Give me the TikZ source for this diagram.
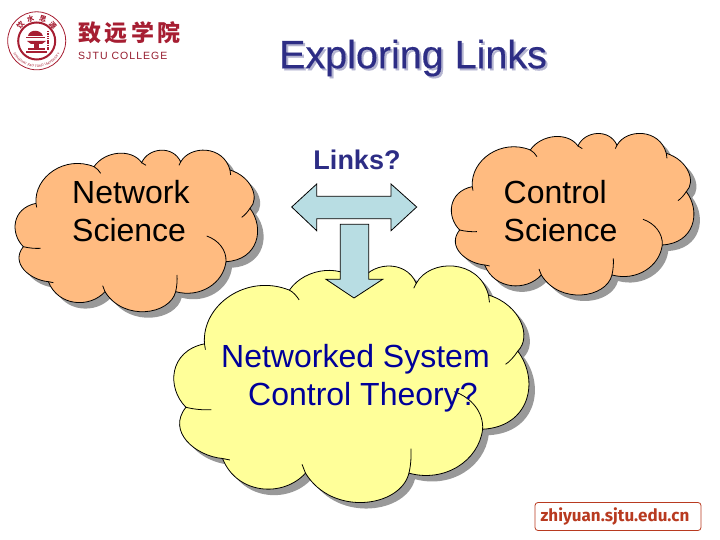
\documentclass[tikz,border=0pt]{standalone}
\usepackage{fontspec}
\setmainfont{Liberation Sans}
\newfontfamily\cjk{Noto Sans CJK SC}
\newfontfamily\webfont{Fira Sans}
\usetikzlibrary{decorations.text}

\definecolor{cloudorange}{HTML}{FFBB80}
\definecolor{cloudyellow}{HTML}{FFFF99}
\definecolor{cloudshade}{HTML}{999999}
\definecolor{arrowblue}{HTML}{B8DDE3}
\definecolor{titleblue}{HTML}{2D2D85}
\definecolor{titleshade}{HTML}{B4B4D0}
\definecolor{theoryblue}{HTML}{000099}
\definecolor{sealred}{HTML}{A61E32}
\definecolor{webred}{HTML}{B83A20}

\newcommand{\cloudoutline}{
  (78,190) .. controls (72,110) and (165,45) .. (252,80)
  .. controls (285,32) and (365,25) .. (395,68)
  .. controls (415,22) and (490,15) .. (512,66)
  .. controls (540,15) and (640,15) .. (660,90)
  .. controls (725,110) and (750,175) .. (720,205)
  .. controls (765,265) and (745,360) .. (648,365)
  .. controls (640,430) and (570,475) .. (497,455)
  .. controls (480,525) and (340,545) .. (285,455)
  .. controls (240,505) and (145,500) .. (115,425)
  .. controls (60,420) and (0,370) .. (40,320)
  .. controls (0,280) and (5,205) .. (78,190)
  -- cycle
}

\tikzset{
  pics/cloud/.style={code={
    \path[fill,draw=black,line width=0.8pt] \cloudoutline;
    \draw[line width=0.8pt] (252,80) .. controls (260,84) and (267,92) .. (272,100);
    \draw[line width=0.8pt] (395,68) -- (408,76);
    \draw[line width=0.8pt] (512,66) -- (507,76);
    \draw[line width=0.8pt] (660,90) -- (662,105);
    \draw[line width=0.8pt] (720,205) .. controls (712,217) and (704,226) .. (695,232);
    \draw[line width=0.8pt] (590,288) .. controls (625,300) and (650,330) .. (648,365);
    \draw[line width=0.8pt] (497,455) .. controls (501,438) and (502,420) .. (501,405);
    \draw[line width=0.8pt] (285,455) -- (278,437);
    \draw[line width=0.8pt] (115,425) -- (130,428);
    \draw[line width=0.8pt] (40,320) .. controls (55,324) and (75,326) .. (92,325);
    \draw[line width=0.8pt] (78,190) -- (80,202);
  }},
  pics/cloudshadow/.style={code={
    \path[fill] \cloudoutline;
  }}
}

\begin{document}
\begin{tikzpicture}[
  x=1pt,y=-1pt,
  small cloud/.style={xscale=1/3,yscale=1/3},
  big cloud/.style={xscale=0.488,yscale=0.488},
  blockarrow/.style={draw=black, fill=arrowblue, line width=0.8pt, line join=miter},
  cloudtext/.style={font=\fontsize{32}{38}\selectfont, align=left, inner sep=0pt},
  title/.style={font=\addfontfeature{FakeBold=0.4}\fontsize{39.5}{44}\selectfont, inner sep=0pt},
  sealchar/.style={font=\cjk\bfseries\fontsize{7}{7}\selectfont, text=sealred, inner sep=0pt},
  collegetext/.style={font=\cjk\bfseries\fontsize{23}{28}\selectfont, text=sealred, inner sep=0pt}
]
  \useasboundingbox (0,0) rectangle (720,540);

  % logo
  \node[draw=sealred, circle, line width=0.8pt, minimum size=58pt, inner sep=0pt] (sealouter) at (36.7,40.8) {};
  \node[draw=sealred, circle, line width=2pt, minimum size=37pt, inner sep=0pt] (sealinner) at (36.7,41) {};
  \node[sealchar, rotate=48] (seal1) at (20.5,25) {饮};
  \node[sealchar, rotate=16] (seal2) at (30.5,19) {水};
  \node[sealchar, rotate=-16] (seal3) at (43,19) {思};
  \node[sealchar, rotate=-48] (seal4) at (53,25) {源};
  \begin{scope}[shift={(36.7,40.8)},y=1pt]
    \path[postaction={decorate}, decoration={text along path, text align=center,
      text={|\fontsize{3.3}{4}\selectfont\color{sealred}|SHANGHAI JIAO TONG UNIVERSITY}}]
      (188:26.5) arc[start angle=188, end angle=352, radius=26.5];
  \end{scope}
  \fill[sealred] (28,36) .. controls (29,29) and (41,29) .. (43,36) -- cycle;
  \fill[sealred] (26,37) rectangle (45,38.5);
  \fill[sealred] (27,41) -- (46,41) -- (42,44) -- (31,44) -- cycle;
  \fill[sealred] (33.5,44) rectangle (39,48);
  \fill[sealred] (28,48) rectangle (45,50);
  \fill[sealred] (26,51.5) rectangle (47,53);
  \draw[sealred, line width=1.2pt, dash pattern=on 1.5pt off 0.8pt] (48,31) -- (48,50);

  \node[collegetext, anchor=west] (collegecn) at (78,33) {致\hspace{3.5pt}远\hspace{3.5pt}学\hspace{3.5pt}院};
  \node[font=\addfontfeature{LetterSpace=10}\fontsize{10.5}{12}\selectfont, text=sealred!90!black, inner sep=0pt, anchor=west] (collegeen) at (78,55.5) {SJTU COLLEGE};

  % title
  \node[title, text=titleshade] (titleshadow) at (415,60) {Exploring Links};
  \node[title, text=titleblue] (titlemain) at (413,58) {Exploring Links};

  % clouds
  \pic[fill=cloudshade, small cloud] (netshade) at (16,146) {cloudshadow};
  \pic[fill=cloudorange, small cloud] (netcloud) at (10,140) {cloud};
  \pic[fill=cloudshade, small cloud] (ctrlshade) at (452.3,129.3) {cloudshadow};
  \pic[fill=cloudorange, small cloud] (ctrlcloud) at (446.3,123.3) {cloud};
  \pic[fill=cloudshade, big cloud] (theoryshade) at (172.4,257.1) {cloudshadow};
  \pic[fill=cloudyellow, big cloud] (theorycloud) at (166.4,251.1) {cloud};

  % arrows
  \draw[blockarrow] (291.7,207) -- (316.7,184) -- (316.7,196.3) -- (391,196.3) -- (391,184) -- (416.7,207)
    -- (391,230.7) -- (391,218.7) -- (316.7,218.7) -- (316.7,230.7) -- cycle;
  \draw[blockarrow] (340.3,224.3) -- (368.7,224.3) -- (368.7,279.3) -- (382.7,279.3) -- (354,298)
    -- (326,279.3) -- (340.3,279.3) -- cycle;

  % labels
  \node[font=\bfseries\fontsize{27}{32}\selectfont, text=titleblue, inner sep=0pt] (links) at (357,160) {Links?};
  \node[cloudtext, anchor=west] (netlabel) at (72,211) {Network\\Science};
  \node[cloudtext, anchor=west] (ctrllabel) at (503.5,211) {Control\\Science};
  \node[cloudtext, text=theoryblue, anchor=west] (theorylabel) at (221,378) {Networked System\\\hspace*{27pt}Control Theory?};

  % web address
  \node[draw=webred, rounded corners=3pt, line width=0.8pt, minimum width=166pt, minimum height=28pt, inner sep=0pt,
    font=\webfont\bfseries\fontsize{17}{20}\selectfont, text=webred] (weblabel) at (618,516.5) {\kern-6pt zhiyuan.sjtu.edu.cn};
\end{tikzpicture}
\end{document}
